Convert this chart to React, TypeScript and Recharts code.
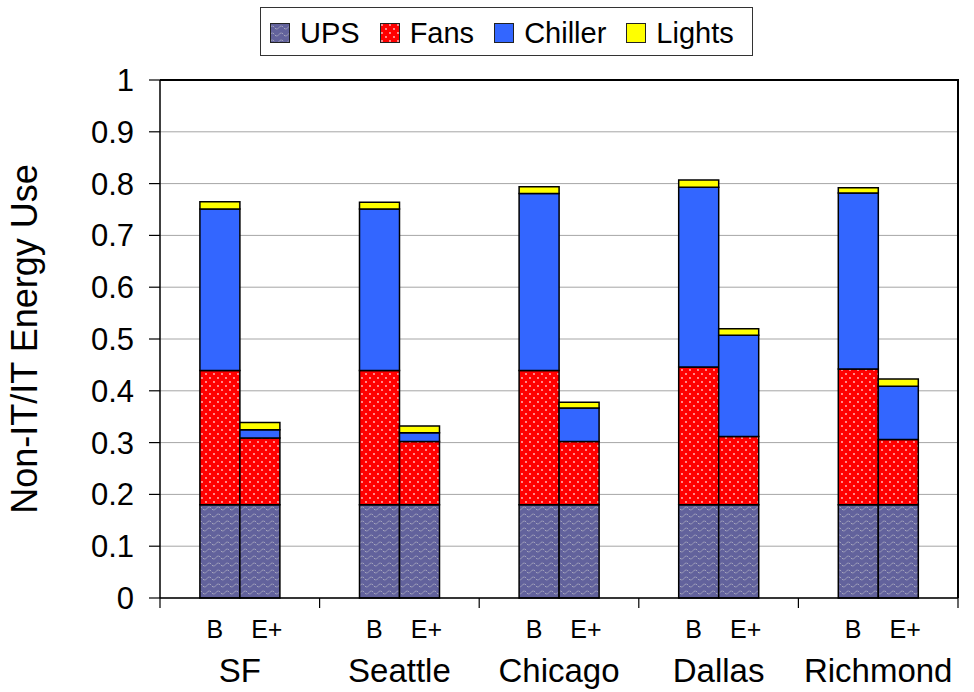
import React from 'react';
import { BarChart, Bar, XAxis, YAxis, CartesianGrid, Legend, Label } from 'recharts';

const cities = ['SF', 'Seattle', 'Chicago', 'Dallas', 'Richmond'];
const scenarioLabels = ['B', 'E+'];
const seriesNames = ['UPS', 'Fans', 'Chiller', 'Lights'];

const upsB = [0.18, 0.18, 0.18, 0.18, 0.18];
const fansB = [0.259, 0.259, 0.259, 0.266, 0.262];
const chillerB = [0.312, 0.312, 0.342, 0.347, 0.34];
const lightsB = [0.014, 0.013, 0.013, 0.014, 0.01];

const upsE = [0.18, 0.18, 0.18, 0.18, 0.18];
const fansE = [0.129, 0.122, 0.122, 0.132, 0.126];
const chillerE = [0.016, 0.017, 0.065, 0.195, 0.103];
const lightsE = [0.014, 0.013, 0.011, 0.013, 0.014];

const yTicks = [0, 0.1, 0.2, 0.3, 0.4, 0.5, 0.6, 0.7, 0.8, 0.9, 1];
const yLabel = 'Non-IT/IT Energy Use';

const data = cities.map((city, i) => ({
  city,
  upsB: upsB[i],
  fansB: fansB[i],
  chillerB: chillerB[i],
  lightsB: lightsB[i],
  upsE: upsE[i],
  fansE: fansE[i],
  chillerE: chillerE[i],
  lightsE: lightsE[i],
}));

// Layout constants
const CHART_W = 974;
const CHART_H = 692;
const MARGIN_TOP = 31;
const MARGIN_RIGHT = 16;
const LEGEND_H = 49;
const XAXIS_H = 94;
const YAXIS_W = 160;
const PLOT_TOP = MARGIN_TOP + LEGEND_H;
const PLOT_H = CHART_H - PLOT_TOP - XAXIS_H;
const PLOT_W = CHART_W - MARGIN_RIGHT - YAXIS_W;

const FONT = '"Liberation Sans", Arial, Helvetica, sans-serif';
const UPS_BASE = '#62629c';
const FANS_BASE = '#ff0000';
const CHILLER = '#3366ff';
const LIGHTS = '#ffff00';

const PatternDefs = ({ prefix }: { prefix: string }) => (
  <defs>
    <pattern id={`${prefix}ups`} patternUnits="userSpaceOnUse" width="9" height="7">
      <rect width="9" height="7" fill={UPS_BASE} />
      <path d="M0 4.5 Q2.25 1.5 4.5 4.5 T9 4.5" fill="none" stroke="#b4b4c4" strokeWidth="1" strokeDasharray="2 1" />
    </pattern>
    <pattern id={`${prefix}fans`} patternUnits="userSpaceOnUse" width="8" height="8">
      <rect width="8" height="8" fill={FANS_BASE} />
      <circle cx="2" cy="2" r="0.9" fill="#ffc8c8" />
      <circle cx="6" cy="6" r="0.9" fill="#ffc8c8" />
    </pattern>
  </defs>
);

const legendFills = (prefix: string) => [`url(#${prefix}ups)`, `url(#${prefix}fans)`, CHILLER, LIGHTS];

const LegendBox = () => {
  const fills = legendFills('lg');
  return (
    <div
      style={{
        boxSizing: 'border-box',
        width: 493,
        height: LEGEND_H,
        border: '1px solid #333',
        background: '#fff',
        display: 'flex',
        alignItems: 'center',
        paddingLeft: 9,
        fontFamily: FONT,
        fontSize: 29,
        color: '#000',
      }}
    >
      <svg width="0" height="0" style={{ position: 'absolute' }}>
        <PatternDefs prefix="lg" />
      </svg>
      {seriesNames.map((name, i) => (
        <div key={name} style={{ display: 'flex', alignItems: 'center', marginRight: 20, marginTop: 3 }}>
          <svg width="20" height="20" style={{ marginRight: 10 }}>
            <rect x="0.5" y="0.5" width="19" height="19" fill={fills[i]} stroke="#222" strokeWidth="1" />
          </svg>
          <span style={{ lineHeight: '29px' }}>{name}</span>
        </div>
      ))}
    </div>
  );
};

const CityTick = (props: any) => {
  const { x, y, payload, index } = props;
  const half = payload && typeof payload.offset === 'number' && payload.offset > 0 ? payload.offset : 80;
  const isLast = index === cities.length - 1;
  const right = x + half;
  return (
    <g>
      <line x1={x - half} y1={y} x2={x - half} y2={y + 10} stroke="#000" strokeWidth={1.2} />
      {isLast && <line x1={right} y1={y} x2={right} y2={y + 10} stroke="#000" strokeWidth={1.2} />}
      <text x={x - 25} y={y + 40} textAnchor="middle" fontSize={25} fontFamily={FONT} fill="#000">
        {scenarioLabels[0]}
      </text>
      <text x={x + 27} y={y + 40} textAnchor="middle" fontSize={25} fontFamily={FONT} fill="#000">
        {scenarioLabels[1]}
      </text>
      <text x={x} y={y + 84} textAnchor="middle" fontSize={33} fontFamily={FONT} fill="#000">
        {payload.value}
      </text>
    </g>
  );
};

const YLabelContent = (props: any) => {
  const vb = props.viewBox || { x: 0, y: PLOT_TOP, width: YAXIS_W, height: PLOT_H };
  const cx = vb.x + 37;
  const cy = vb.y + vb.height / 2;
  return (
    <text
      x={cx}
      y={cy}
      transform={`rotate(-90, ${cx}, ${cy})`}
      textAnchor="middle"
      fontSize={36}
      fontFamily={FONT}
      fill="#000"
    >
      {yLabel}
    </text>
  );
};

const barStroke = { stroke: '#000', strokeWidth: 1.5 };

export default function App() {
  return (
    <div style={{ position: 'absolute', left: 0, top: 0, width: CHART_W, height: CHART_H, background: '#fff' }}>
      <BarChart
        width={CHART_W}
        height={CHART_H}
        data={data}
        margin={{ top: MARGIN_TOP, right: MARGIN_RIGHT, bottom: 0, left: 0 }}
        barCategoryGap="25%"
        barGap={0}
      >
        <PatternDefs prefix="ch" />
        <CartesianGrid vertical={false} stroke="#a6a6a6" strokeWidth={1} />
        <XAxis
          dataKey="city"
          height={XAXIS_H}
          tickLine={false}
          tickSize={0}
          tickMargin={0}
          axisLine={{ stroke: '#000', strokeWidth: 1.5 }}
          tick={<CityTick />}
          interval={0}
        />
        <YAxis
          width={YAXIS_W}
          domain={[0, 1]}
          ticks={yTicks}
          interval={0}
          tickSize={11}
          tickMargin={15}
          tickLine={{ stroke: '#000', strokeWidth: 1.2 }}
          axisLine={{ stroke: '#000', strokeWidth: 1.5 }}
          tick={{ fontSize: 31, fontFamily: FONT, fill: '#000' }}
          tickFormatter={(v: number) => String(v)}
        >
          <Label content={<YLabelContent />} />
        </YAxis>
        <Legend
          verticalAlign="top"
          content={() => <LegendBox />}
          wrapperStyle={{ top: 7, left: 260, width: 493, height: LEGEND_H }}
        />
        <Bar dataKey="upsB" stackId="B" name="UPS" fill="url(#chups)" {...barStroke} isAnimationActive={false} legendType="none" />
        <Bar dataKey="fansB" stackId="B" name="Fans" fill="url(#chfans)" {...barStroke} isAnimationActive={false} legendType="none" />
        <Bar dataKey="chillerB" stackId="B" name="Chiller" fill={CHILLER} {...barStroke} isAnimationActive={false} legendType="none" />
        <Bar dataKey="lightsB" stackId="B" name="Lights" fill={LIGHTS} {...barStroke} isAnimationActive={false} legendType="none" />
        <Bar dataKey="upsE" stackId="E" name="UPS" fill="url(#chups)" {...barStroke} isAnimationActive={false} legendType="none" />
        <Bar dataKey="fansE" stackId="E" name="Fans" fill="url(#chfans)" {...barStroke} isAnimationActive={false} legendType="none" />
        <Bar dataKey="chillerE" stackId="E" name="Chiller" fill={CHILLER} {...barStroke} isAnimationActive={false} legendType="none" />
        <Bar dataKey="lightsE" stackId="E" name="Lights" fill={LIGHTS} {...barStroke} isAnimationActive={false} legendType="none" />
      </BarChart>
      <div
        style={{
          position: 'absolute',
          left: YAXIS_W,
          top: PLOT_TOP - 1,
          width: PLOT_W + 1,
          height: PLOT_H + 1,
          boxSizing: 'border-box',
          borderTop: '2px solid #000',
          borderRight: '2px solid #000',
          pointerEvents: 'none',
        }}
      />
    </div>
  );
}
